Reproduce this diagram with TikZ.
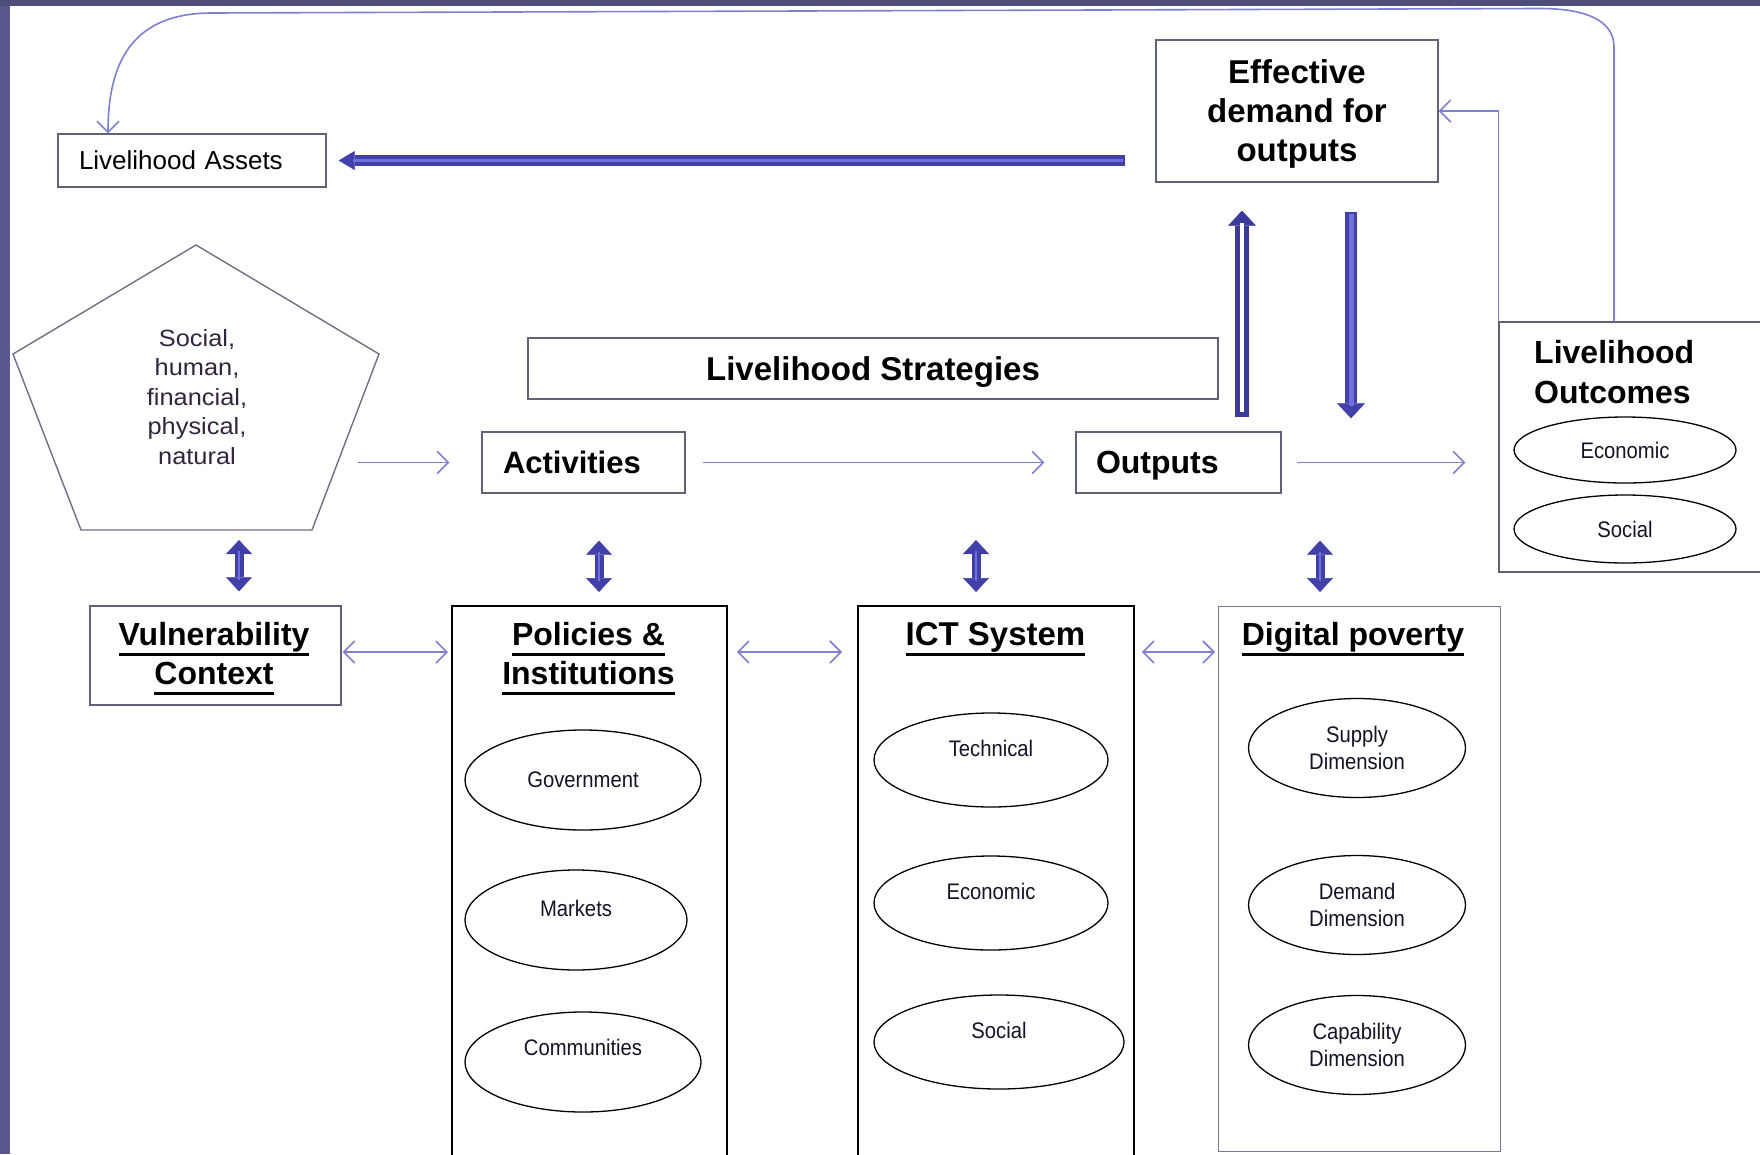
\documentclass[tikz,border=0pt]{standalone}
\usepackage{fontspec}
\setmainfont{Liberation Sans}
\newfontfamily\ellfont{Liberation Sans}[FakeStretch=0.9]
\newfontfamily\pentfont{Liberation Sans}[FakeStretch=1.08]
\usetikzlibrary{arrows.meta,shapes.geometric,calc}

\definecolor{frameband}{RGB}{88,88,140}
\definecolor{linkviolet}{RGB}{128,128,210}
\definecolor{boxgrey}{RGB}{96,96,118}
\definecolor{digigrey}{RGB}{120,120,150}
\definecolor{blockdark}{RGB}{64,64,168}
\definecolor{blocklight}{RGB}{112,112,222}
\definecolor{penttext}{RGB}{50,38,62}
\definecolor{ovalink}{RGB}{20,20,40}

% font size in points with baseline skip
\newcommand\fsz[2]{\fontsize{#1pt}{#2pt}\selectfont}
% heavy underline for the column titles
\newcommand\ulbar[1]{\setbox0=\hbox{#1}\rlap{\rule[-11pt]{\wd0}{3.2pt}}\box0}

\tikzset{
  box/.style={draw=boxgrey, line width=1.4pt, fill=white, inner sep=0pt},
  darkbox/.style={draw=black, line width=1.8pt, inner sep=0pt},
  oval/.style={ellipse, draw=black, line width=1.3pt, inner sep=0pt,
               font=\ellfont\fsz{22.5}{27}, align=center, text=ovalink},
  ovaltext/.style={font=\ellfont\fsz{22.5}{27}, align=center, text=ovalink, inner sep=0pt},
  link/.style={draw=linkviolet, line width=1.6pt},
  barb/.tip={Straight Barb[length=11pt,width=22pt]},
  vblk/.style={draw=blockdark, line width=9pt,
    {Triangle[width=26pt,length=14pt,line width=0.5pt]}-{Triangle[width=26pt,length=14pt,line width=0.5pt]}},
  vcore/.style={draw=blocklight, line width=2.6pt},
  hblk/.style={draw=blockdark, line width=11pt, -{Triangle[width=19pt,length=16pt,line width=0.5pt]}},
  hcore/.style={draw=blocklight, line width=3pt},
  upblk/.style={draw=blockdark!92!black, line width=14pt, -{Triangle[width=28pt,length=15pt,line width=0.5pt]}},
  upcore/.style={draw=white, line width=4pt},
  dnblk/.style={draw=blockdark, line width=12pt, -{Triangle[width=28pt,length=15pt,line width=0.5pt]}},
  dncore/.style={draw=blocklight, line width=5pt},
}

\begin{document}
\begin{tikzpicture}[x=1pt, y=-1pt]
\useasboundingbox (0,0) rectangle (1760,1154);
\clip (0,0) rectangle (1760,1154);
\fill[white] (0,0) rectangle (1760,1154);
\fill[frameband] (0,0) rectangle (10,1154);
\fill[frameband!88!black] (0,0) rectangle (1760,6);

% ---------- top row ----------
\node[box, minimum width=268pt, minimum height=53pt, text width=226pt, inner xsep=21pt,
      align=left, font=\fsz{26}{30}] (assets) at (192,160.5) {Livelihood Assets};

\node[box, minimum width=282pt, minimum height=142pt, align=center, text depth=0pt,
      font=\bfseries\fsz{33}{39}] (effective) at (1297,111) {Effective\\demand for\\outputs};

\node[box, minimum width=690pt, minimum height=61pt, text depth=0pt,
      font=\bfseries\fsz{33}{39}] (strategies) at (873,368.5) {Livelihood Strategies};

\node[box, minimum width=203pt, minimum height=61pt, text width=161pt, inner xsep=21pt,
      align=left, font=\bfseries\fsz{31}{36}] (act) at (583.5,462.5) {Activities};

\node[box, minimum width=205pt, minimum height=61pt, text width=165pt, inner xsep=20pt,
      align=left, text depth=0pt, font=\bfseries\fsz{32}{36}] (outp) at (1178.5,462.5) {Outputs};

% livelihood outcomes panel
\node[box, minimum width=276pt, minimum height=250pt] (outcomes) at (1637,447) {};
\node[anchor=north west, inner sep=0pt, align=left, font=\bfseries\fsz{32}{40}]
     (outtitle) at (1534,340.5) {Livelihood\\Outcomes};
\node[oval, minimum width=222pt, minimum height=66pt] (oecon) at (1625,450) {Economic};
\node[oval, minimum width=222pt, minimum height=68pt] (osoc) at (1625,529) {Social};

% capital assets pentagon
\draw[draw=boxgrey!90, line width=1.4pt]
  (196,245) -- (379,354) -- (312,530) -- (81,530) -- (13,354) -- cycle;
\node[align=center, inner sep=0pt, text=penttext, font=\pentfont\fsz{23.5}{29.5}]
     (capitals) at (197,397) {Social,\\human,\\financial,\\physical,\\natural};
\coordinate (pentR) at (337.5,462.5);
\coordinate (pentB) at (239,530);

% ---------- bottom row ----------
\node[box, minimum width=251pt, minimum height=99pt] (vuln) at (215.5,655.5) {};
\node[align=center, inner sep=0pt, font=\bfseries\fsz{32}{39}]
     (vulntitle) at (214,658.5) {\ulbar{Vulnerability}\\\ulbar{Context}};

\node[darkbox, minimum width=275pt, minimum height=560pt, anchor=north west] (pol) at (451,605) {};
\node[align=center, inner sep=0pt, font=\bfseries\fsz{32}{39}]
     (poltitle) at (588.5,658.5) {\ulbar{Policies \&}\\\ulbar{Institutions}};
\node[oval, minimum width=236pt, minimum height=100pt] (gov) at (583,780) {Government};
\node[oval, minimum width=222pt, minimum height=100pt,
      label={[ovaltext, yshift=12pt]center:Markets}] (markets) at (576,920) {};
\node[oval, minimum width=236pt, minimum height=100pt,
      label={[ovaltext, yshift=15pt]center:Communities}] (comm) at (583,1062) {};

\node[darkbox, minimum width=276pt, minimum height=560pt, anchor=north west] (ict) at (857,605) {};
\node[inner sep=0pt, font=\bfseries\fsz{33}{38}] (icttitle) at (995.5,639) {\ulbar{ICT System}};
\node[oval, minimum width=234pt, minimum height=94pt,
      label={[ovaltext, yshift=12pt]center:Technical}] (tech) at (991,760) {};
\node[oval, minimum width=234pt, minimum height=94pt,
      label={[ovaltext, yshift=12pt]center:Economic}] (iecon) at (991,903) {};
\node[oval, minimum width=250pt, minimum height=94pt,
      label={[ovaltext, yshift=12pt]center:Social}] (isoc) at (999,1042) {};

\node[box, draw=digigrey, minimum width=282pt, minimum height=545pt, anchor=north west] (dig) at (1218,606) {};
\node[inner sep=0pt, font=\bfseries\fsz{32}{38}] (digtitle) at (1353,639) {\ulbar{Digital poverty}};
\node[oval, minimum width=217pt, minimum height=99pt] (supply) at (1357,748) {Supply\\Dimension};
\node[oval, minimum width=217pt, minimum height=99pt] (demand) at (1357,905) {Demand\\Dimension};
\node[oval, minimum width=217pt, minimum height=99pt] (capab) at (1357,1045) {Capability\\Dimension};

% ---------- helper coordinates ----------
\coordinate (hrow) at (0,652);
\coordinate (loopx) at (1614,0);
\coordinate (assetsx) at (108,0);
\coordinate (xAP) at (599,0);
\coordinate (ictTop) at (976,540);
\coordinate (xDP) at (1320,0);
\coordinate (xUp) at (1242,0);
\coordinate (xDn) at (1351,0);

% ---------- thin connectors ----------
\draw[link, -barb, shorten <=20pt, shorten >=32pt] (pentR) -- (act.west);
\draw[link, -barb, shorten <=17pt, shorten >=31pt] (act.east) -- (outp.west);
\draw[link, -barb, shorten <=15pt, shorten >=33pt] (outp.east) -- (outp.east -| outcomes.west);
\draw[link, barb-barb, shorten <=1pt, shorten >=3pt] (vuln.east |- hrow) -- (pol.west |- hrow);
\draw[link, barb-barb, shorten <=9pt, shorten >=15pt] (pol.east |- hrow) -- (ict.west |- hrow);
\draw[link, barb-barb, shorten <=7pt, shorten >=3pt] (ict.east |- hrow) -- (dig.west |- hrow);
\draw[link, -barb] (outcomes.north west) |- (effective.east);
\draw[link, -barb] (outcomes.north -| loopx) -- (1614,47)
  .. controls (1614,20) and (1585,8.5) .. (1540,8.5) -- (212,13)
  .. controls (138,13) and (108,55) .. (assets.north -| assetsx);

% ---------- block arrows ----------
\draw[vblk, shorten <=10pt, shorten >=14pt] (pentB) -- (vuln.north -| pentB);
\draw[vcore, shorten <=21pt, shorten >=25pt] (pentB) -- (vuln.north -| pentB);

\draw[vblk, shorten <=47pt, shorten >=13pt] (act.south -| xAP) -- (pol.north -| xAP);
\draw[vcore, shorten <=58pt, shorten >=24pt] (act.south -| xAP) -- (pol.north -| xAP);

\draw[vblk, shorten >=13pt] (ictTop) -- (ict.north -| ictTop);
\draw[vcore, shorten <=11pt, shorten >=24pt] (ictTop) -- (ict.north -| ictTop);

\draw[vblk, shorten <=47pt, shorten >=14pt] (outp.south -| xDP) -- (dig.north -| xDP);
\draw[vcore, shorten <=58pt, shorten >=25pt] (outp.south -| xDP) -- (dig.north -| xDP);

\draw[hblk, shorten <=30pt, shorten >=12pt] (assets.east -| effective.west) -- (assets.east);
\draw[hcore, shorten <=32pt, shorten >=26pt] (assets.east -| effective.west) -- (assets.east);

\draw[upblk, shorten <=14pt, shorten >=28pt] (outp.north -| xUp) -- (effective.south -| xUp);
\draw[upcore, shorten <=19pt, shorten >=40pt] (outp.north -| xUp) -- (effective.south -| xUp);

\draw[dnblk, shorten <=29pt, shorten >=13pt] (effective.south -| xDn) -- (outp.north -| xDn);
\draw[dncore, shorten <=31pt, shorten >=25pt] (effective.south -| xDn) -- (outp.north -| xDn);
\end{tikzpicture}
\end{document}
